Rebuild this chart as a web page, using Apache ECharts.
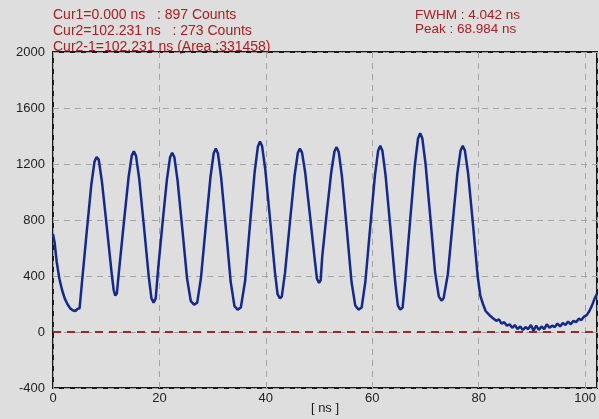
<!DOCTYPE html>
<html>
<head>
<meta charset="utf-8">
<script src="https://cdn.jsdelivr.net/npm/echarts@6/dist/echarts.min.js"></script>
<style>
html,body{margin:0;padding:0;background:#dedede;}
#c{width:599px;height:419px;}
</style>
</head>
<body>
<div id="c"></div>
<script>
// Time axis (ns) and counts
const timeNs = [
  0.0, 0.3, 0.7, 1.2, 1.7, 2.2, 2.7, 3.2, 3.7, 4.2, 4.6, 5.0, 5.4, 6.3, 7.2, 7.8, 8.2, 8.6, 9.2, 10.1, 11.0, 11.4, 11.7,
  12.0, 12.4, 13.3, 14.2, 14.8, 15.2, 15.6, 16.2, 17.1, 18.0, 18.5, 18.9,
  19.3, 19.8, 20.5, 21.4, 22.0, 22.4, 22.8, 23.4, 24.3, 25.2, 25.9, 26.5,
  27.1, 27.8, 28.7, 29.6, 30.2, 30.6, 31.0, 31.6, 32.5, 33.4, 34.1, 34.7,
  35.3, 36.1, 37.0, 37.9, 38.5, 38.9, 39.3, 39.9, 40.8, 41.7, 42.2, 42.65,
  43.0, 43.6, 44.5, 45.4, 46.0, 46.4, 46.8, 47.4, 48.3, 49.2, 49.6, 50.0,
  50.3, 50.6, 51.4, 52.3, 52.9, 53.3, 53.7, 54.3, 55.2, 56.1, 56.8, 57.4,
  58.0, 58.7, 59.6, 60.5, 61.1, 61.5, 61.9, 62.5, 63.4, 64.3, 64.8, 65.25,
  65.7, 66.2, 67.1, 68.0, 68.6, 69.0, 69.4, 70.0, 70.9, 71.8, 72.5, 73.0,
  73.4, 74.2, 75.1, 76.0, 76.6, 77.0, 77.4, 78.0, 78.9, 79.8, 80.3,
  80.8, 81.3, 81.8, 82.3, 82.8, 83.3, 83.8, 84.3, 84.8, 85.3, 85.8, 86.3, 86.8, 87.3, 87.8, 88.3, 88.8, 89.3, 89.8,
  90.3, 90.8, 91.3, 91.8, 92.3, 92.8, 93.3, 93.8, 94.3, 94.8, 95.3, 95.8, 96.3, 96.8, 97.3, 97.8, 98.3, 98.8, 99.3,
  99.8, 100.3, 100.8, 101.3, 101.8, 102.231
];
const counts = [
  700, 640, 500, 380, 300, 240, 200, 170, 155, 150, 165, 170, 337, 700, 1052, 1217, 1250, 1230, 1072, 755, 428, 300, 260,
  275, 435, 775, 1105, 1260, 1290, 1258, 1096, 750, 394, 240, 210,
  240, 467, 745, 1087, 1248, 1280, 1250, 1085, 737, 380, 220, 195,
  210, 385, 752, 1109, 1277, 1310, 1275, 1103, 735, 355, 185, 160,
  175, 364, 760, 1144, 1324, 1360, 1326, 1158, 800, 430, 270, 240,
  255, 422, 775, 1117, 1278, 1310, 1281, 1137, 830, 513, 380, 350,
  370, 540, 835, 1145, 1291, 1320, 1285, 1111, 740, 357, 190, 160,
  175, 359, 745, 1119, 1295, 1330, 1295, 1119, 745, 359, 190, 160,
  175, 374, 790, 1193, 1382, 1420, 1384, 1205, 822, 428, 255, 225,
  240, 413, 778, 1136, 1297, 1330, 1297, 1136, 780, 400, 260,
  200, 150, 130, 110, 95, 80, 90, 60, 70, 45, 55, 30, 50, 20, 40, 15, 35, 20, 50,
  10, 45, 15, 40, 20, 55, 30, 45, 35, 60, 40, 65, 50, 75, 55, 80, 70, 95, 85,
  110, 120, 150, 190, 240, 273
];
const xTicks = [0, 20, 40, 60, 80, 100];
const yTicks = [-400, 0, 400, 800, 1200, 1600, 2000];
const cursorLines = [
  'Cur1=0.000 ns   : 897 Counts',
  'Cur2=102.231 ns   : 273 Counts',
  'Cur2-1=102.231 ns (Area :331458)'
];
const peakLines = ['FWHM : 4.042 ns', 'Peak : 68.984 ns'];
const baseline = 0;

const chart = echarts.init(document.getElementById('c'), null, {renderer: 'canvas'});
const red = '#a82020';
const font = 'Arial, "Liberation Sans", sans-serif';
const graphics = [];
cursorLines.forEach((t, i) => graphics.push({
  type: 'text', left: 53, top: 8 + i * 16,
  style: {text: t, fill: red, font: '14px ' + font}
}));
peakLines.forEach((t, i) => graphics.push({
  type: 'text', left: 415, top: 8 + i * 14,
  style: {text: t, fill: red, font: '13.5px ' + font}
}));

chart.setOption({
  animation: false,
  backgroundColor: '#dedede',
  grid: {left: 53, right: 2, top: 52, bottom: 31, show: true, borderColor: '#1a1a1a', borderWidth: 2,
         containLabel: false, outerBoundsMode: 'none'},
  graphic: graphics,
  xAxis: {
    type: 'value', min: 0, max: 102.231, interval: 20,
    name: '[ ns ]', nameLocation: 'middle', nameGap: 14, nameMoveOverlap: false,
    nameTextStyle: {color: '#222', fontSize: 13, fontFamily: font},
    axisLine: {show: false}, axisTick: {show: false},
    axisLabel: {color: '#222', fontSize: 13, fontFamily: font, margin: 4,
      formatter: v => xTicks.indexOf(v) >= 0 ? String(v) : ''},
    splitLine: {show: true, lineStyle: {color: '#a4a4a4', type: [6, 5], width: 1}}
  },
  yAxis: {
    type: 'value', min: -400, max: 2000, interval: 400,
    axisLine: {show: false}, axisTick: {show: false},
    axisLabel: {color: '#222', fontSize: 13, fontFamily: font, margin: 8,
      formatter: v => yTicks.indexOf(v) >= 0 ? String(v) : ''},
    splitLine: {show: true, lineStyle: {color: '#a4a4a4', type: [6, 5], width: 1}}
  },
  series: [{
    type: 'line',
    data: timeNs.map((t, i) => [t, counts[i]]),
    showSymbol: false,
    lineStyle: {color: '#14298c', width: 2.5},
    markLine: {
      silent: true, symbol: 'none', label: {show: false},
      lineStyle: {color: '#9a2a2a', type: [8, 6], width: 2},
      data: [{yAxis: baseline}]
    }
  }]
});
</script>
</body>
</html>
